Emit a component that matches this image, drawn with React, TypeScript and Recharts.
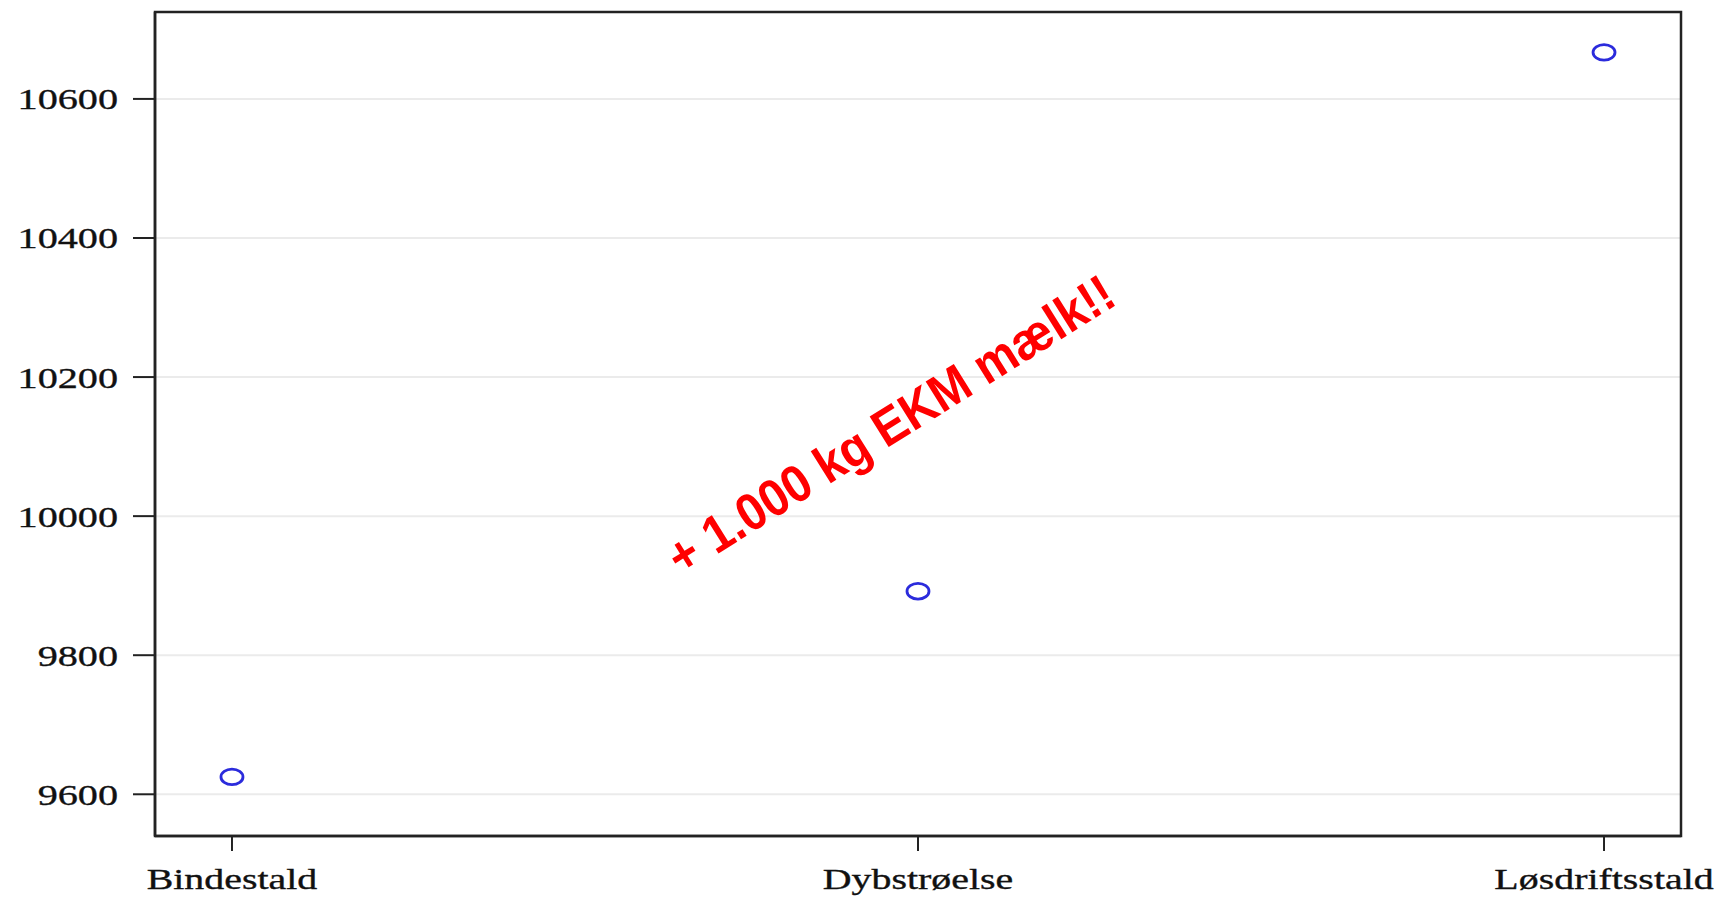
import { CartesianGrid, ReferenceArea, Scatter, ScatterChart, XAxis, YAxis } from "recharts";

const categories = ["Bindestald", "Dybstrøelse", "Løsdriftsstald"];
const milkYield = [9625, 9892, 10667];
const yTicks = [9600, 9800, 10000, 10200, 10400, 10600];
const note = "+ 1.000 kg EKM mælk!!";

const points = categories.map((name, i) => ({ x: i, y: milkYield[i], name }));

const xDomain: [number, number] = [-0.1122, 2.1122];
const yDomain: [number, number] = [9540, 10725];

const serif = "'Liberation Serif', 'Times New Roman', serif";
const axisColor = "#222";

function YTick({ x, y, payload }: any) {
  return (
    <text
      transform={`translate(${x},${y}) scale(1.34,1)`}
      textAnchor="end"
      dy="0.35em"
      fontFamily={serif}
      fontSize={30}
      fill="#111"
      stroke="#111"
      strokeWidth={0.35}
    >
      {payload.value}
    </text>
  );
}

function XTick({ x, y, payload }: any) {
  return (
    <text
      transform={`translate(${x},${y}) scale(1.33,1)`}
      textAnchor="middle"
      dy="0.71em"
      fontFamily={serif}
      fontSize={30}
      fill="#111"
      stroke="#111"
      strokeWidth={0.35}
    >
      {categories[payload.value]}
    </text>
  );
}

function Ring({ cx, cy }: any) {
  return <ellipse cx={cx} cy={cy} rx={11} ry={7.8} fill="none" stroke="#2b2bdc" strokeWidth={2.8} />;
}

export default function App() {
  return (
    <div style={{ position: "absolute", left: 0, top: 0, width: 1724, height: 899, background: "#fff" }}>
      <ScatterChart width={1724} height={899} margin={{ top: 12, right: 43, bottom: 0, left: 0 }}>
        <CartesianGrid xAxisId="b" yAxisId="l" vertical={false} stroke="#ebebeb" strokeWidth={2} />
        <XAxis
          xAxisId="b"
          type="number"
          dataKey="x"
          domain={xDomain}
          ticks={[0, 1, 2]}
          allowDataOverflow
          height={63}
          stroke={axisColor}
          strokeWidth={2.5}
          tickSize={15}
          tickMargin={17}
          tickLine={{ stroke: axisColor, strokeWidth: 2 }}
          tick={<XTick />}
        />
        <YAxis
          yAxisId="l"
          type="number"
          dataKey="y"
          domain={yDomain}
          ticks={yTicks}
          allowDataOverflow
          width={155}
          stroke={axisColor}
          strokeWidth={2.5}
          tickSize={22}
          tickMargin={15}
          tickLine={{ stroke: axisColor, strokeWidth: 2 }}
          tick={<YTick />}
        />
        <ReferenceArea
          xAxisId="b"
          yAxisId="l"
          x1={xDomain[0]}
          x2={xDomain[1]}
          y1={yDomain[0]}
          y2={yDomain[1]}
          fill="none"
          fillOpacity={0}
          stroke={axisColor}
          strokeWidth={2.5}
          strokeOpacity={1}
          ifOverflow="visible"
        />
        <Scatter xAxisId="b" yAxisId="l" data={points} shape={<Ring />} isAnimationActive={false} />
      </ScatterChart>
      <svg width={1724} height={899} style={{ position: "absolute", left: 0, top: 0, pointerEvents: "none" }}>
        <text
          transform="translate(900 440) rotate(-32) scale(1 1.1)"
          textAnchor="middle"
          fontFamily="'Liberation Sans', Arial, sans-serif"
          fontWeight="bold"
          fontSize={47.5}
          fill="#ff0000"
        >
          {note}
        </text>
      </svg>
    </div>
  );
}
